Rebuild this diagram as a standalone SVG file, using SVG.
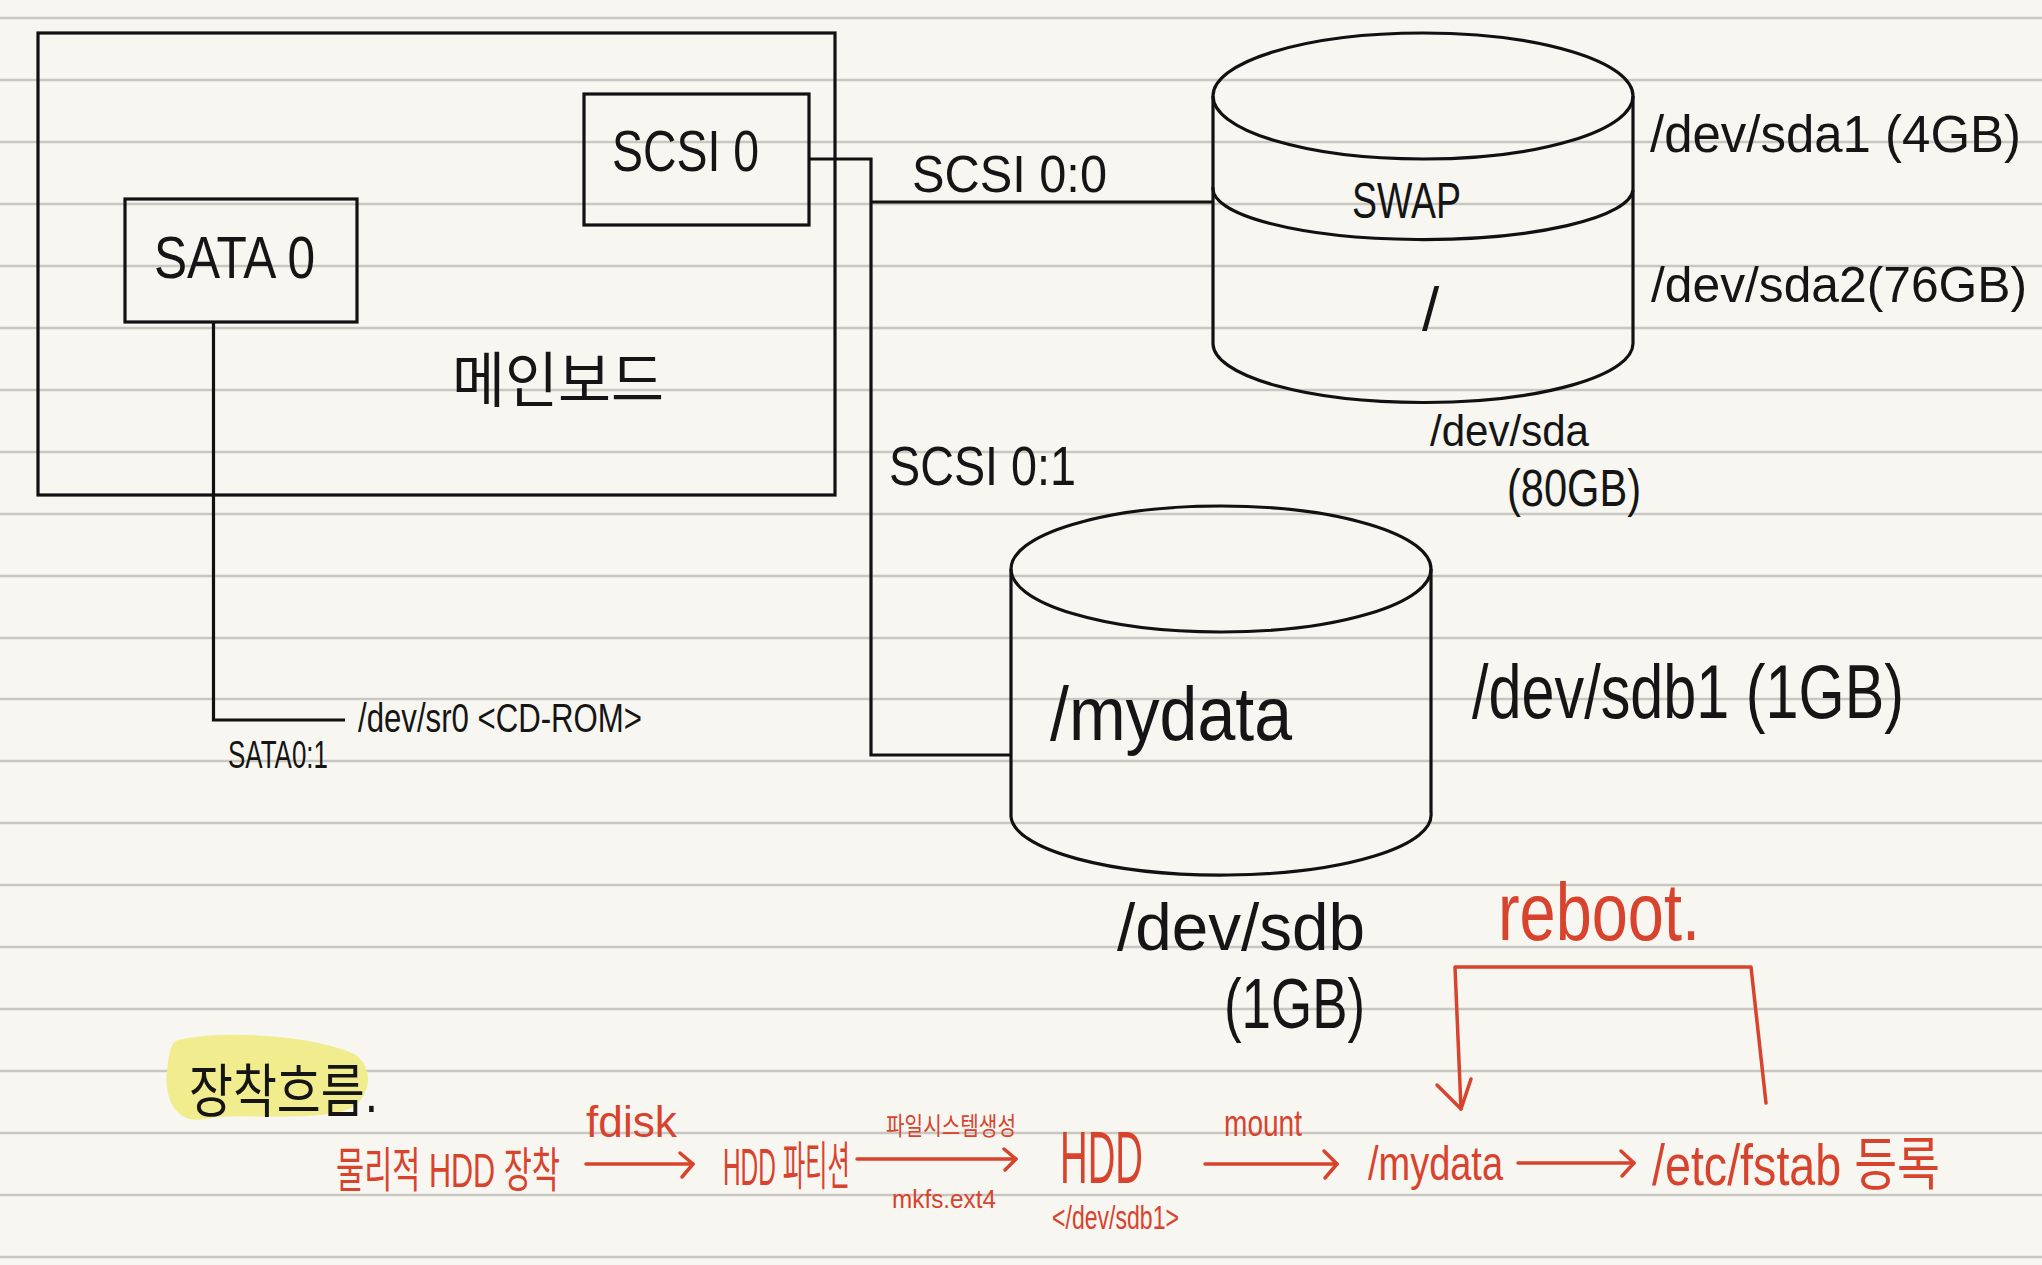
<svg xmlns="http://www.w3.org/2000/svg" width="2042" height="1265" viewBox="0 0 2042 1265">
<defs>
<style>
.bg{fill:#f7f6f1}
.rule{stroke:#c9c7c1;stroke-width:2.5}
.k{fill:none;stroke:#111;stroke-width:3.2}
.kr{fill:none;stroke:#d8432e;stroke-width:3.5;stroke-linecap:round;stroke-linejoin:round}
.t{font-family:"Liberation Sans","Noto Sans CJK KR",sans-serif;fill:#151515}
.r{font-family:"Liberation Sans","Noto Sans CJK KR",sans-serif;fill:#d8432e}
</style>
</defs>
<rect class="bg" x="0" y="0" width="2042" height="1265"/>
<g id="ruled-lines">
<line class="rule" x1="0" y1="18" x2="2042" y2="18"/>
<line class="rule" x1="0" y1="80" x2="2042" y2="80"/>
<line class="rule" x1="0" y1="142" x2="2042" y2="142"/>
<line class="rule" x1="0" y1="204" x2="2042" y2="204"/>
<line class="rule" x1="0" y1="266" x2="2042" y2="266"/>
<line class="rule" x1="0" y1="328" x2="2042" y2="328"/>
<line class="rule" x1="0" y1="390" x2="2042" y2="390"/>
<line class="rule" x1="0" y1="452" x2="2042" y2="452"/>
<line class="rule" x1="0" y1="514" x2="2042" y2="514"/>
<line class="rule" x1="0" y1="576" x2="2042" y2="576"/>
<line class="rule" x1="0" y1="638" x2="2042" y2="638"/>
<line class="rule" x1="0" y1="699" x2="2042" y2="699"/>
<line class="rule" x1="0" y1="761" x2="2042" y2="761"/>
<line class="rule" x1="0" y1="823" x2="2042" y2="823"/>
<line class="rule" x1="0" y1="885" x2="2042" y2="885"/>
<line class="rule" x1="0" y1="947" x2="2042" y2="947"/>
<line class="rule" x1="0" y1="1009" x2="2042" y2="1009"/>
<line class="rule" x1="0" y1="1071" x2="2042" y2="1071"/>
<line class="rule" x1="0" y1="1133" x2="2042" y2="1133"/>
<line class="rule" x1="0" y1="1195" x2="2042" y2="1195"/>
<line class="rule" x1="0" y1="1257" x2="2042" y2="1257"/>
</g>

<g id="connectors">
<polyline class="k" points="809,159 871,159 871,755 1011,755"/>
<line class="k" x1="871" y1="202" x2="1213" y2="202"/>
<polyline class="k" points="213.5,322 213.5,720 345,720"/>
<line class="kr" x1="586" y1="1164" x2="693" y2="1164"/>
<polyline class="kr" points="680,1153 693,1164 682,1177"/>
<line class="kr" x1="857" y1="1159" x2="1016" y2="1159"/>
<polyline class="kr" points="1004,1149 1016,1159 1005,1170"/>
<line class="kr" x1="1205" y1="1164" x2="1337" y2="1164"/>
<polyline class="kr" points="1324,1151 1337,1164 1325,1178"/>
<line class="kr" x1="1518" y1="1163" x2="1634" y2="1163"/>
<polyline class="kr" points="1621,1151 1634,1163 1622,1176"/>
<polyline class="kr" points="1766,1103 1751,967 1455,967 1461,1109"/>
<polyline class="kr" points="1437,1085 1461,1109 1471,1079"/>
</g>

<g id="mainboard">
<rect class="k" x="38" y="33" width="797" height="462"/>
<text class="t" x="452" y="402" font-size="60" textLength="212" lengthAdjust="spacingAndGlyphs">메인보드</text>
</g>
<g id="scsi0">
<rect class="k" x="584" y="94" width="225" height="131"/>
<text class="t" x="612" y="171" font-size="58" textLength="147" lengthAdjust="spacingAndGlyphs">SCSI 0</text>
</g>
<g id="sata0">
<rect class="k" x="125" y="199" width="232" height="123"/>
<text class="t" x="154" y="278" font-size="60" textLength="161" lengthAdjust="spacingAndGlyphs">SATA 0</text>
</g>

<g id="label-scsi00">
<text class="t" x="912" y="192" font-size="52" textLength="195" lengthAdjust="spacingAndGlyphs">SCSI 0:0</text>
</g>
<g id="label-scsi01">
<text class="t" x="889" y="485" font-size="56" textLength="187" lengthAdjust="spacingAndGlyphs">SCSI 0:1</text>
</g>
<g id="cdrom">
<text class="t" x="358" y="732" font-size="40" textLength="284" lengthAdjust="spacingAndGlyphs">/dev/sr0 &lt;CD-ROM&gt;</text>
<text class="t" x="228" y="768" font-size="38" textLength="100" lengthAdjust="spacingAndGlyphs">SATA0:1</text>
</g>

<g id="sda">
<ellipse class="k" cx="1423" cy="96" rx="210" ry="63"/>
<line class="k" x1="1213" y1="96" x2="1213" y2="344"/>
<line class="k" x1="1633" y1="96" x2="1633" y2="343"/>
<path class="k" d="M1213,344 A210,59 0 0 0 1633,343"/>
<path class="k" d="M1213,187 A210,51 0 0 0 1633,190"/>
<text class="t" x="1352" y="218" font-size="50" textLength="109" lengthAdjust="spacingAndGlyphs">SWAP</text>
<text class="t" x="1422" y="330" font-size="62">/</text>
<text class="t" x="1650" y="152" font-size="51" textLength="371" lengthAdjust="spacingAndGlyphs">/dev/sda1 (4GB)</text>
<text class="t" x="1651" y="302" font-size="50" textLength="376" lengthAdjust="spacingAndGlyphs">/dev/sda2(76GB)</text>
<text class="t" x="1430" y="446" font-size="44" textLength="159" lengthAdjust="spacingAndGlyphs">/dev/sda</text>
<text class="t" x="1507" y="506" font-size="52" textLength="134" lengthAdjust="spacingAndGlyphs">(80GB)</text>
</g>

<g id="sdb">
<ellipse class="k" cx="1221" cy="569" rx="210" ry="63"/>
<line class="k" x1="1011" y1="569" x2="1011" y2="817"/>
<line class="k" x1="1431" y1="569" x2="1431" y2="813"/>
<path class="k" d="M1011,817 A210,60 0 0 0 1431,813"/>
<text class="t" x="1050" y="740" font-size="76" textLength="242" lengthAdjust="spacingAndGlyphs">/mydata</text>
<text class="t" x="1472" y="718" font-size="76" textLength="432" lengthAdjust="spacingAndGlyphs">/dev/sdb1 (1GB)</text>
<text class="t" x="1117" y="950" font-size="66" textLength="248" lengthAdjust="spacingAndGlyphs">/dev/sdb</text>
<text class="t" x="1224" y="1028" font-size="70" textLength="141" lengthAdjust="spacingAndGlyphs">(1GB)</text>
</g>

<g id="flow-title">
<path d="M178,1040 C230,1028 322,1038 354,1054 C374,1066 372,1096 351,1108 C320,1123 240,1112 205,1119 C174,1125 164,1096 167,1070 C169,1054 170,1043 178,1040 Z" fill="#f1ec8d"/>
<text class="t" x="189" y="1112" font-size="58" textLength="189" lengthAdjust="spacingAndGlyphs">장착흐름.</text>
</g>
<g id="step-physical">
<text class="r" x="336" y="1187" font-size="48" textLength="224" lengthAdjust="spacingAndGlyphs">물리적 HDD 장착</text>
</g>
<g id="label-fdisk">
<text class="r" x="586" y="1137" font-size="44" textLength="91" lengthAdjust="spacingAndGlyphs">fdisk</text>
</g>
<g id="step-partition">
<text class="r" x="723" y="1185" font-size="52" textLength="127" lengthAdjust="spacingAndGlyphs">HDD 파티션</text>
</g>
<g id="label-mkfs">
<text class="r" x="886" y="1135" font-size="25" textLength="130" lengthAdjust="spacingAndGlyphs">파일시스템생성</text>
<text class="r" x="892" y="1208" font-size="26" textLength="104" lengthAdjust="spacingAndGlyphs">mkfs.ext4</text>
</g>
<g id="step-hdd">
<text class="r" x="1060" y="1183" font-size="74" textLength="83" lengthAdjust="spacingAndGlyphs">HDD</text>
<text class="r" x="1052" y="1229" font-size="34" textLength="127" lengthAdjust="spacingAndGlyphs">&lt;/dev/sdb1&gt;</text>
</g>
<g id="label-mount">
<text class="r" x="1224" y="1136" font-size="36" textLength="78" lengthAdjust="spacingAndGlyphs">mount</text>
</g>
<g id="step-mydata">
<text class="r" x="1368" y="1180" font-size="48" textLength="135" lengthAdjust="spacingAndGlyphs">/mydata</text>
</g>
<g id="step-fstab">
<text class="r" x="1652" y="1185" font-size="58" textLength="288" lengthAdjust="spacingAndGlyphs">/etc/fstab 등록</text>
</g>
<g id="label-reboot">
<text class="r" x="1498" y="940" font-size="82" textLength="202" lengthAdjust="spacingAndGlyphs">reboot.</text>
</g>
</svg>
